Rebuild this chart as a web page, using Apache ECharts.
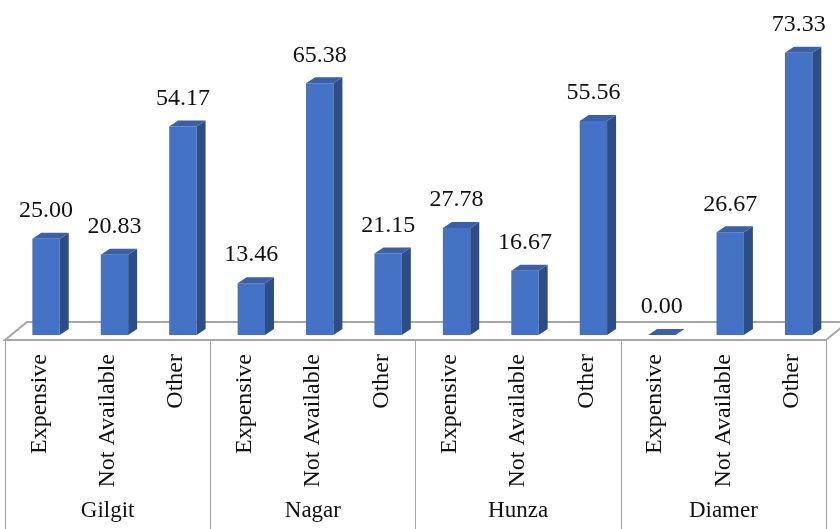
<!DOCTYPE html>
<html>
<head>
<meta charset="utf-8">
<script src="https://cdn.jsdelivr.net/npm/echarts@6/dist/echarts.min.js"></script>
<style>
html, body { margin: 0; padding: 0; background: #fff; }
#main { width: 840px; height: 529px; }
</style>
</head>
<body>
<div id="main"></div>
<script>
// data
var districts = ['Gilgit', 'Nagar', 'Hunza', 'Diamer'];
var reasons = ['Expensive', 'Not Available', 'Other'];
var gilgitValues = [25.00, 20.83, 54.17];
var nagarValues = [13.46, 65.38, 21.15];
var hunzaValues = [27.78, 16.67, 55.56];
var diamerValues = [0.00, 26.67, 73.33];

var FONT = "'Liberation Serif', 'DejaVu Serif', serif";

// flatten into one category per bar
var categories = [];
var barData = [];
[gilgitValues, nagarValues, hunzaValues, diamerValues].forEach(function(arr) {
	reasons.forEach(function(r, i) {
		barData.push([categories.length, arr[i]]);
		categories.push(r);
	});
});

// fake 3d bar: front, side and top faces
function renderBar(params, api) {
	var idx = api.value(0);
	var base = api.coord([idx, 0]);
	var top = api.coord([idx, api.value(1)]);
	var band = api.size([1, 0])[0];
	var w = band * 0.4;
	var cx = base[0] + band * 0.1;
	var x0 = cx - w / 2, x1 = cx + w / 2;
	var dx = 9, dy = 6;
	var yb = base[1], yt = top[1];
	return {
		type: 'group',
		children: [{
			type: 'rect',
			shape: { x: x0, y: yt, width: w, height: yb - yt },
			style: { fill: '#4472C4' }
		}, {
			type: 'polygon',
			shape: { points: [[x1, yt], [x1 + dx, yt - dy], [x1 + dx, yb - dy], [x1, yb]] },
			style: { fill: '#2E4D85' }
		}, {
			type: 'polygon',
			shape: { points: [[x0, yt], [x0 + dx, yt - dy], [x1 + dx, yt - dy], [x1, yt]] },
			style: { fill: '#3A60A8' }
		}, {
			type: 'text',
			style: {
				x: cx, y: yt - 28,
				text: api.value(1).toFixed(2),
				font: '24px ' + FONT,
				fill: '#111',
				align: 'center',
				verticalAlign: 'middle'
			}
		}]
	};
}

// floor under the bars, taken from the grid rect
function renderFloor(params, api) {
	var cs = params.coordSys;
	var front = cs.y + cs.height + 5;
	var back = cs.y + cs.height - 13;
	var left = cs.x, right = cs.x + cs.width;
	return {
		type: 'polygon',
		shape: { points: [[left, front], [left + 22, back], [right + 22, back], [right, front]] },
		style: { fill: '#fff', stroke: '#a6a6a6', lineWidth: 2 }
	};
}

var chart = echarts.init(document.getElementById('main'));
chart.setOption({
	animation: false,
	grid: { left: 5, right: 14, top: 27, bottom: 194 },
	xAxis: [{
		type: 'category',
		data: categories,
		axisLine: { show: false },
		axisTick: { show: false },
		axisLabel: {
			interval: 0,
			rotate: 90,
			margin: 19,
			fontFamily: FONT,
			fontSize: 24,
			color: '#111'
		}
	}, {
		type: 'category',
		data: districts,
		position: 'bottom',
		offset: 5,
		axisLine: { show: false },
		axisTick: { show: true, length: 200, lineStyle: { color: '#a6a6a6', width: 1 } },
		axisLabel: {
			interval: 0,
			margin: 159,
			fontFamily: FONT,
			fontSize: 23,
			color: '#111'
		}
	}],
	yAxis: { type: 'value', min: 0, max: 80, show: false },
	series: [{
		type: 'custom',
		z: 1,
		renderItem: renderFloor,
		data: [[0, 0]],
		silent: true
	}, {
		type: 'custom',
		z: 2,
		renderItem: renderBar,
		encode: { x: 0, y: 1 },
		data: barData
	}]
});
</script>
</body>
</html>
